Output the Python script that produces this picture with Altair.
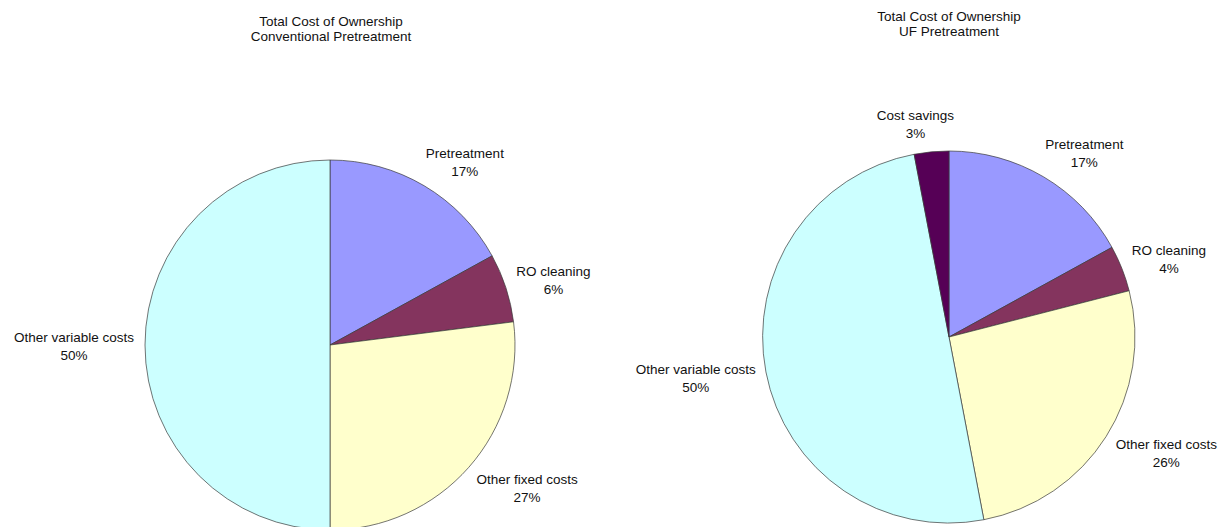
import altair as alt
import pandas as pd

# ---- data ----
categories = ["Pretreatment", "RO cleaning", "Other fixed costs", "Other variable costs", "Cost savings"]
colors = ["#9999FF", "#84345E", "#FFFFCC", "#CCFFFF", "#560056"]

conv_categories = ["Pretreatment", "RO cleaning", "Other fixed costs", "Other variable costs"]
conv_values = [17, 6, 27, 50]

uf_categories = ["Pretreatment", "RO cleaning", "Other fixed costs", "Other variable costs", "Cost savings"]
uf_values = [17, 4, 26, 50, 3]

titles = ["Total Cost of Ownership\nConventional Pretreatment",
          "Total Cost of Ownership\nUF Pretreatment"]

FONT = "Liberation Sans"
FS = 13.5


def pie(cats, vals, cx, cy, r):
    df = pd.DataFrame({"category": cats, "value": vals, "order": list(range(len(cats)))})
    df["label"] = df["category"] + "\n" + df["value"].astype(str) + "%"
    arcs = alt.Chart(df).mark_arc(outerRadius=r, stroke="#3a3a3a", strokeWidth=0.7).encode(
        theta=alt.Theta("value:Q", stack=True),
        order=alt.Order("order:Q"),
        x=alt.value(cx),
        y=alt.value(cy),
        color=alt.Color("category:N", scale=alt.Scale(domain=categories, range=colors), legend=None),
    )
    labels = (
        alt.Chart(df)
        .transform_joinaggregate(total="sum(value)")
        .transform_window(cum="sum(value)", sort=[alt.SortField("order")], frame=[None, 0])
        .transform_calculate(mid="2*PI*(datum.cum - datum.value/2)/datum.total")
        .transform_calculate(
            lx=f"{r + 21}*sin(datum.mid) + 2.5*length(datum.category)*clamp(5*sin(datum.mid), -1, 1)",
            # +7: first text line sits about half a line above the two-line block's centre
            ly=f"{r + 12}*cos(datum.mid) + 17*cos(datum.mid) + 7",
        )
        .transform_calculate(
            lt="atan2(datum.lx, datum.ly)",
            lr="sqrt(datum.lx*datum.lx + datum.ly*datum.ly)",
        )
        .mark_text(lineBreak="\n", font=FONT, fontSize=FS, lineHeight=18,
                   baseline="middle", align="center", color="#111111")
        .encode(
            x=alt.value(cx),
            y=alt.value(cy),
            theta=alt.Theta("lt:Q", scale=None, stack=None),
            radius=alt.Radius("lr:Q", scale=None),
            text="label:N",
        )
    )
    return arcs, labels


a1, l1 = pie(conv_categories, conv_values, 330, 345, 185)
a2, l2 = pie(uf_categories, uf_values, 949, 337, 186)


def title_layer(t, cx, cy):
    return alt.Chart(pd.DataFrame({"t": [t]})).mark_text(
        lineBreak="\n", font=FONT, fontSize=FS, lineHeight=15,
        baseline="middle", align="center", color="#111111"
    ).encode(x=alt.value(cx), y=alt.value(cy), text="t:N")


chart = alt.layer(
    a1, a2, l1, l2,
    title_layer(titles[0], 331, 22),
    title_layer(titles[1], 949, 17),
).resolve_scale(theta="independent").properties(
    width=1229, height=527, padding=0, autosize="none"
).configure_view(stroke=None)

chart.save("out.html", embed_options={"renderer": "svg", "actions": False})
